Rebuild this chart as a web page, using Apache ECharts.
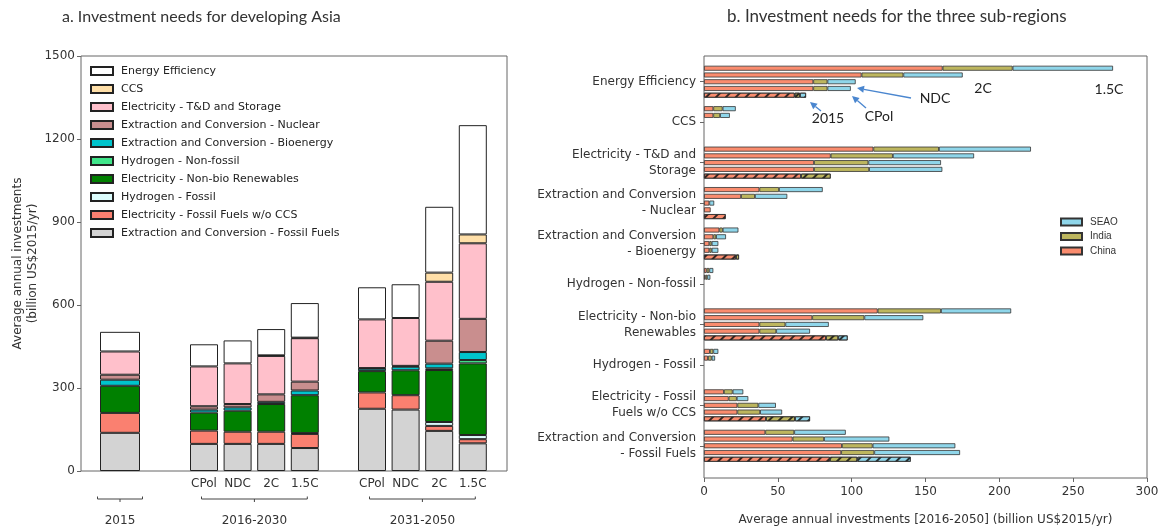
<!DOCTYPE html>
<html>
<head>
<meta charset="utf-8">
<script src="https://cdn.jsdelivr.net/npm/echarts@6/dist/echarts.min.js"></script>
<style>
  html, body { margin: 0; padding: 0; background: #fff; }
  #chart { width: 1159px; height: 528px; }
</style>
</head>
<body>
<div id="chart"></div>
<script>
// == Data ====================================================================

// investment components, legend order (top of the stack first)
const components = [
  'Energy Efficiency',
  'CCS',
  'Electricity - T&D and Storage',
  'Extraction and Conversion - Nuclear',
  'Extraction and Conversion - Bioenergy',
  'Hydrogen - Non-fossil',
  'Electricity - Non-bio Renewables',
  'Hydrogen - Fossil',
  'Electricity - Fossil Fuels w/o CCS',
  'Extraction and Conversion - Fossil Fuels'
]

// panel a -- bars: 2015, CPol/NDC/2C/1.5C (2016-2030), CPol/NDC/2C/1.5C (2031-2050)
const scenarioLabels = ['', 'CPol', 'NDC', '2C', '1.5C', 'CPol', 'NDC', '2C', '1.5C']
const periods = ['2015', '2016-2030', '2031-2050']
const periodBars = [[0, 0], [1, 4], [5, 8]]

const energyEfficiency = [71, 80, 83, 95, 125, 116, 122, 238, 395]
const ccs = [0, 0, 0, 2, 2, 0, 0, 33, 32]
const tdStorage = [84, 144, 147, 139, 157, 176, 173, 213, 273]
const nuclear = [18, 12, 12, 27, 32, 2, 3, 83, 120]
const bioenergy = [22, 11, 12, 8, 17, 9, 13, 17, 29]
const h2NonFossil = [0, 0, 0, 0, 0, 0, 0, 6, 12]
const renewables = [98, 65, 76, 100, 137, 77, 90, 188, 259]
const h2Fossil = [0, 0, 0, 0, 3, 0, 0, 14, 15]
const fossilPower = [72, 48, 44, 44, 51, 59, 52, 18, 15]
const fossilFuels = [138, 98, 98, 98, 83, 225, 222, 145, 100]

const asiaValues = [energyEfficiency, ccs, tdStorage, nuclear, bioenergy,
  h2NonFossil, renewables, h2Fossil, fossilPower, fossilFuels]

// panel b -- rows follow subScenarios, columns follow components
const subScenarios = ['1.5C', '2C', 'NDC', 'CPol', '2015']
const regions = ['China', 'India', 'SEAO']

const chinaInv = [
  [161.6, 6.3, 114.7, 37.5, 10.4, 1.8, 117.6, 4.0, 13.5, 41.5],
  [106.7, 6.3, 85.8, 25.1, 6.3, 0.9, 73.3, 2.7, 16.7, 60.0],
  [74.0, 0, 74.5, 3.6, 3.6, 0, 37.5, 0, 22.6, 93.4],
  [74.0, 0, 74.5, 4.5, 3.6, 0, 37.5, 0, 22.6, 92.9],
  [61.4, 0, 65.7, 14.7, 21.7, 0, 82.6, 0, 42.0, 85.3]
]
const indiaInv = [
  [47.4, 6.3, 44.4, 13.3, 2.3, 1.8, 42.9, 2.3, 5.9, 19.6],
  [28.3, 4.6, 42.1, 9.4, 1.9, 1.3, 35.3, 2.5, 5.5, 21.3],
  [9.6, 0, 36.8, 0, 1.6, 0, 17.6, 0, 14.2, 20.8],
  [9.6, 0, 37.3, 0, 1.6, 0, 11.4, 0, 15.4, 22.4],
  [3.6, 0, 20.1, 0, 2.0, 0, 8.3, 0, 19.6, 18.5]
]
const seaoInv = [
  [68.0, 8.9, 62.3, 29.6, 10.6, 2.7, 47.5, 3.4, 7.2, 34.9],
  [40.2, 6.6, 55.0, 21.9, 6.7, 2.1, 39.9, 2.3, 7.8, 44.2],
  [19.1, 0, 49.2, 3.3, 4.5, 0, 29.4, 0, 11.9, 56.0],
  [15.8, 0, 49.6, 0, 4.5, 0, 22.9, 0, 14.9, 58.1],
  [4.1, 0, 0, 0, 0, 0, 6.4, 0, 10.2, 36.2]
]
const regionValues = [chinaInv, indiaInv, seaoInv]

// == Layout & style ==========================================================

// panel a uses a fine category axis: each bar sits on its own slot
const slotCount = 26
const barSlots = [2, 7, 9, 11, 13, 17, 19, 21, 23]
const slotNames = new Array(slotCount).fill('')
barSlots.forEach((s, i) => { slotNames[s] = scenarioLabels[i] })

const componentColors = ['#ffffff', '#ffdfa8', '#ffc0cb', '#c98e8e', '#00c4cc',
  '#40e68a', '#008000', '#dcfcfc', '#fa8070', '#d3d3d3']
const regionColors = ['#fa8c6e', '#bdb65e', '#8fd6ea']

const FONT = 'DejaVu Sans'
const TITLE_FONT = 'Lato'
const TXT = '#333'
const FRAME = '#666'

function wrap (text, width) {
  const lines = []
  let line = ''
  text.split(' ').forEach((word) => {
    if (line && (line + ' ' + word).length > width) {
      lines.push(line)
      line = word
    } else {
      line = line ? line + ' ' + word : word
    }
  })
  lines.push(line)
  return lines.join('\n')
}

const gap = (v) => (v === 0 ? '-' : v)

// == Series ==================================================================

const series = []

// panel a, stacked bottom-up (reverse legend order)
for (let i = components.length - 1; i >= 0; i--) {
  const vals = asiaValues[i]
  const style = {color: componentColors[i], borderColor: '#222', borderWidth: 1}
  series.push({
    type: 'bar', name: components[i], xAxisIndex: 2, yAxisIndex: 1,
    stack: 'base', barWidth: 40, itemStyle: style,
    data: [[barSlots[0], gap(vals[0])]]
  })
  series.push({
    type: 'bar', name: components[i], xAxisIndex: 1, yAxisIndex: 1,
    stack: 'scen', barWidth: 28, itemStyle: style,
    data: vals.slice(1).map((v, j) => [barSlots[j + 1], gap(v)])
  })
}

// panel b, one stack per scenario
subScenarios.forEach((scen, s) => {
  regions.forEach((region, r) => {
    const itemStyle = {color: regionColors[r], borderColor: '#333', borderWidth: 0.8}
    if (scen === '2015') {
      itemStyle.decal = {
        symbol: 'rect', symbolSize: 1, color: 'rgba(20,20,20,0.85)',
        dashArrayX: [[1, 0]], dashArrayY: [1.4, 4.2], rotation: -Math.PI / 4
      }
    }
    series.push({
      type: 'bar', name: region, xAxisIndex: 4, yAxisIndex: 3,
      stack: 'b' + scen, barWidth: 5, barGap: '35%', itemStyle,
      data: regionValues[r][s].map(gap)
    })
  })
})

// == Option ==================================================================

const hidden = {show: false}
const titleStyle = {fontFamily: TITLE_FONT, fontWeight: 'normal', color: TXT}
const fixedGrid = {outerBoundsMode: 'none', containLabel: false}

const option = {
  animation: false,
  backgroundColor: '#fff',
  title: [
    {text: 'a. Investment needs for developing Asia', left: 62, top: 9, padding: 0,
      textStyle: Object.assign({fontSize: 16}, titleStyle)},
    {text: 'b. Investment needs for the three sub-regions', left: 727, top: 8, padding: 0,
      textStyle: Object.assign({fontSize: 17}, titleStyle)}
  ],
  legend: [
    {
      data: components, orient: 'vertical', left: 90, top: 64, padding: 0,
      itemWidth: 22, itemHeight: 8, itemGap: 4, selectedMode: false, icon: 'rect',
      textStyle: {fontFamily: FONT, fontSize: 11, color: '#222', lineHeight: 14, padding: [0, 0, 0, 3]}
    },
    {
      data: regions.slice().reverse(), orient: 'vertical', left: 1060, top: 217, padding: 0,
      itemWidth: 21, itemHeight: 7, itemGap: 4.5, selectedMode: false, icon: 'rect',
      textStyle: {fontFamily: 'Liberation Sans', fontSize: 10, color: TXT, lineHeight: 10, padding: [0, 0, 0, 3]}
    }
  ],
  grid: [
    // a: frame + value axis
    Object.assign({left: 81, right: 652, top: 56, bottom: 57, show: true, borderColor: FRAME, borderWidth: 1}, fixedGrid),
    // a: bars
    Object.assign({left: 78, width: slotCount * 16.8, top: 56, bottom: 57}, fixedGrid),
    // b: frame + value axis
    Object.assign({left: 704, right: 12, top: 56, bottom: 50, show: true, borderColor: FRAME, borderWidth: 1}, fixedGrid),
    // b: bars
    Object.assign({left: 704, right: 12, top: 61.5, bottom: 62}, fixedGrid)
  ],
  xAxis: [
    {type: 'value', gridIndex: 0, show: false},
    {
      type: 'category', gridIndex: 1, data: slotNames,
      axisLine: hidden, splitLine: hidden,
      axisTick: {alignWithLabel: true, length: 4, interval: (i, v) => v !== '', lineStyle: {color: FRAME}},
      axisLabel: {interval: 0, margin: 7, fontFamily: FONT, fontSize: 12, color: TXT}
    },
    {type: 'category', gridIndex: 1, data: slotNames, show: false},
    {
      type: 'value', gridIndex: 2, min: 0, max: 300, interval: 50,
      axisLine: hidden, splitLine: hidden,
      axisTick: {length: 4, lineStyle: {color: FRAME}},
      axisLabel: {margin: 8, fontFamily: FONT, fontSize: 12, color: TXT},
      name: 'Average annual investments [2016-2050] (billion US$2015/yr)',
      nameLocation: 'middle', nameGap: 36,
      nameTextStyle: {fontFamily: FONT, fontSize: 12, color: TXT}
    },
    {type: 'value', gridIndex: 3, min: 0, max: 300, show: false}
  ],
  yAxis: [
    {
      type: 'value', gridIndex: 0, min: 0, max: 1500, interval: 300,
      axisLine: {show: false, onZero: false}, splitLine: hidden,
      axisTick: {show: true, length: 4, lineStyle: {color: FRAME}},
      axisLabel: {margin: 6, fontFamily: FONT, fontSize: 12, color: TXT, formatter: (v) => String(v)},
      name: 'Average annual investments\n(billion US$2015/yr)',
      nameLocation: 'middle', nameRotate: 90, nameGap: 41,
      nameTextStyle: {fontFamily: FONT, fontSize: 12, color: TXT, lineHeight: 15, align: 'center'}
    },
    {type: 'value', gridIndex: 1, min: 0, max: 1500, show: false},
    {type: 'value', gridIndex: 2, show: false},
    {
      type: 'category', gridIndex: 3, inverse: true, position: 'left',
      data: components.map((c) => wrap(c, 25)),
      axisLine: {show: false, onZero: false},
      axisTick: {show: true, alignWithLabel: true, length: 4, lineStyle: {color: FRAME}},
      axisLabel: {margin: 8, fontFamily: FONT, fontSize: 12, color: TXT, lineHeight: 16, align: 'right'}
    }
  ],
  series
}

const chart = echarts.init(document.getElementById('chart'))
chart.setOption(option)

// == Annotations =============================================================

const ARROW = '#4a86cf'
const graphics = []

function arrow (x1, y1, x2, y2) {
  const a = Math.atan2(y2 - y1, x2 - x1)
  const len = 7
  const w = 3.5
  const bx = x2 - len * Math.cos(a)
  const by = y2 - len * Math.sin(a)
  graphics.push({type: 'line', shape: {x1, y1, x2: bx, y2: by},
    style: {stroke: ARROW, lineWidth: 1.3}, silent: true})
  graphics.push({type: 'polygon', silent: true, style: {fill: ARROW},
    shape: {points: [[x2, y2],
      [bx + w * Math.sin(a), by - w * Math.cos(a)],
      [bx - w * Math.sin(a), by + w * Math.cos(a)]]}})
}

function note (text, x, y) {
  graphics.push({type: 'text', x, y, silent: true,
    style: {text, fill: '#222', font: '14px ' + TITLE_FONT, align: 'center', verticalAlign: 'middle'}})
}

note('1.5C', 1109, 89)
note('2C', 983, 88)
note('NDC', 935, 98)
note('CPol', 879, 116)
note('2015', 828, 118)
arrow(911, 98, 857, 88)
arrow(866, 108, 852, 96)
arrow(821, 111, 810, 102)

// period brackets under panel a
const bracketY = 499
periods.forEach((p, k) => {
  const [a, b] = periodBars[k]
  const pad = a === b ? 22.5 : 2.5
  const x1 = chart.convertToPixel({xAxisIndex: 1}, barSlots[a]) - pad
  const x2 = chart.convertToPixel({xAxisIndex: 1}, barSlots[b]) + pad
  const xm = (x1 + x2) / 2
  graphics.push({type: 'polyline', silent: true,
    shape: {points: [[x1, bracketY - 2.5], [x1, bracketY], [x2, bracketY], [x2, bracketY - 2.5]]},
    style: {stroke: '#444', lineWidth: 1, fill: null}})
  graphics.push({type: 'line', silent: true,
    shape: {x1: xm, y1: bracketY, x2: xm, y2: bracketY + 3},
    style: {stroke: '#444', lineWidth: 1}})
  graphics.push({type: 'text', x: xm, y: 521, silent: true,
    style: {text: p, fill: TXT, font: '12px ' + FONT, align: 'center', verticalAlign: 'middle'}})
})

chart.setOption({graphic: graphics})
</script>
</body>
</html>
